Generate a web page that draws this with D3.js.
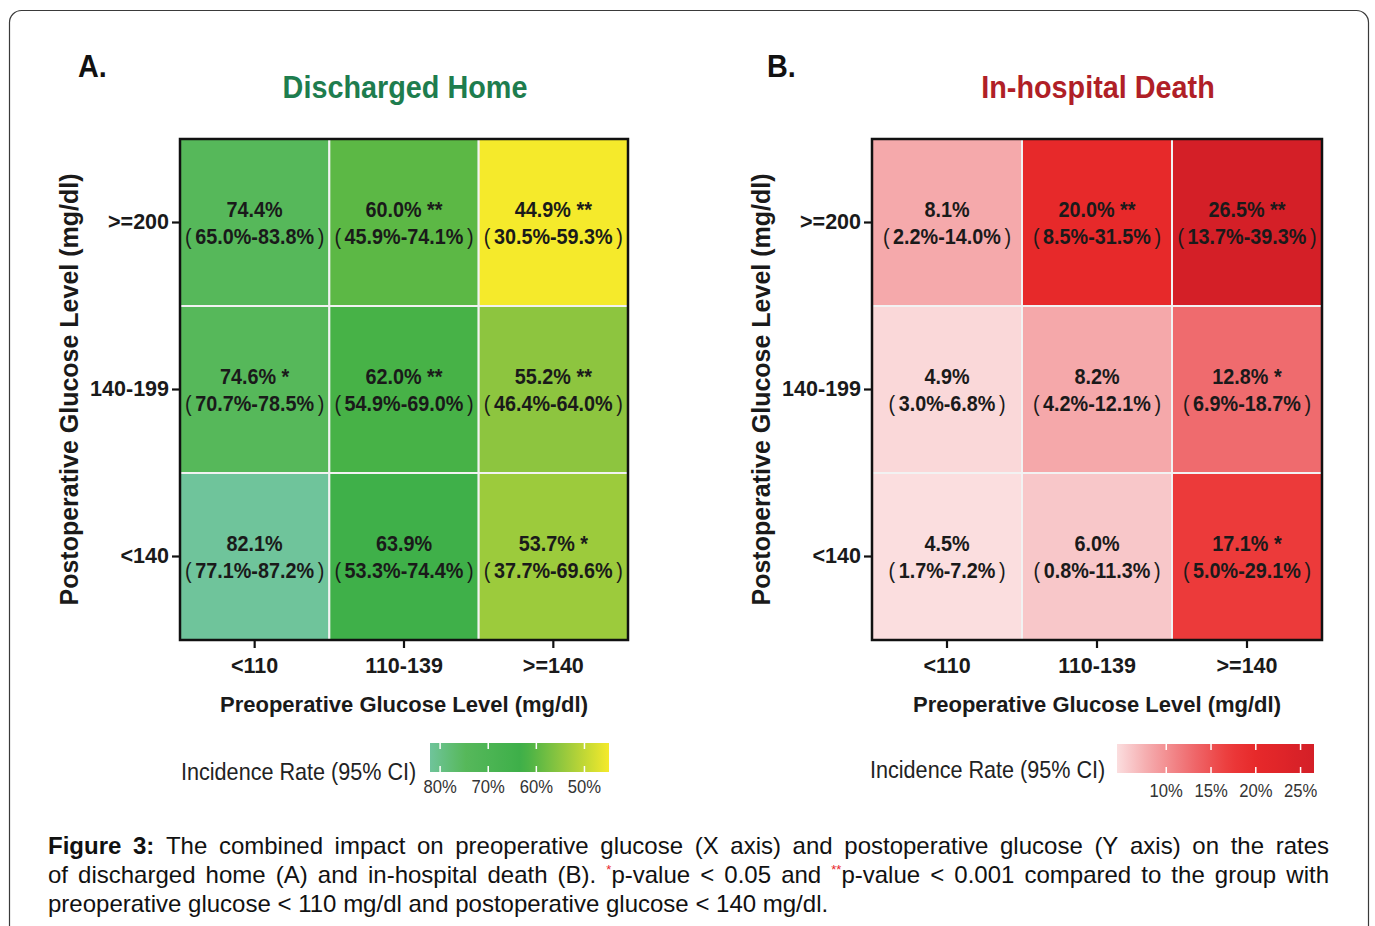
<!DOCTYPE html>
<html>
<head>
<meta charset="utf-8">
<script src="https://cdn.jsdelivr.net/npm/d3@7"></script>
<style>
  html, body { margin: 0; padding: 0; background: #fff; }
  svg { display: block; }
</style>
</head>
<body>
<script>
// ---- data -------------------------------------------------------------
const preCategories  = ["<110", "110-139", ">=140"];          // x axis
const postCategories = ["<140", "140-199", ">=200"];          // y axis (bottom -> top)

// rows follow postCategories, columns follow preCategories
const homeRates = [[82.1, 63.9, 53.7], [74.6, 62.0, 55.2], [74.4, 60.0, 44.9]];
const homeLow   = [[77.1, 53.3, 37.7], [70.7, 54.9, 46.4], [65.0, 45.9, 30.5]];
const homeHigh  = [[87.2, 74.4, 69.6], [78.5, 69.0, 64.0], [83.8, 74.1, 59.3]];
const homeSig   = [["", "", "*"], ["*", "**", "**"], ["", "**", "**"]];

const deathRates = [[4.5, 6.0, 17.1], [4.9, 8.2, 12.8], [8.1, 20.0, 26.5]];
const deathLow   = [[1.7, 0.8, 5.0], [3.0, 4.2, 6.9], [2.2, 8.5, 13.7]];
const deathHigh  = [[7.2, 11.3, 29.1], [6.8, 12.1, 18.7], [14.0, 31.5, 39.3]];
const deathSig   = [["", "", "*"], ["", "", "*"], ["", "**", "**"]];

const homeLegendTicks  = [80, 70, 60, 50];
const deathLegendTicks = [10, 15, 20, 25];

// colour ramps (value stops -> colours)
const homeStops  = [44.9, 55, 63, 75, 82.1];
const homeColors = ["#f5ea2b", "#8fc63f", "#3daf48", "#57b85b", "#6fc49b"];
const deathStops  = [4.5, 6, 8.1, 12.8, 17.1, 20, 26.5];
const deathColors = ["#fbdedf", "#f8c7c9", "#f5a9ab", "#ef6b6e", "#ec3a3a", "#e7292a", "#d41f27"];

const captionLines = [
  "!Figure !3: The combined impact on preoperative glucose (X axis) and postoperative glucose (Y axis) on the rates",
  "of discharged home (A) and in-hospital death (B). ^*|p-value < 0.05 and ^**|p-value < 0.001 compared to the group with",
  "preoperative glucose < 110 mg/dl and postoperative glucose < 140 mg/dl."
];

// ---- canvas -----------------------------------------------------------
const W = 1375, H = 926;
const svg = d3.select("body").append("svg")
  .attr("width", W).attr("height", H)
  .attr("viewBox", `0 0 ${W} ${H}`);

svg.append("rect").attr("width", W).attr("height", H).attr("fill", "#fff");
svg.append("rect")
  .attr("x", 9.5).attr("y", 10.5).attr("width", 1359).attr("height", 940)
  .attr("rx", 12).attr("fill", "none").attr("stroke", "#3a3a3a").attr("stroke-width", 1.2);

const FONT = "'Liberation Sans', Arial, sans-serif";
const NARROW = 0.9;   // horizontal squeeze used by the panel lettering

function squeezedText(g, x, y, str, opts) {
  return g.append("text")
    .attr("transform", `translate(${x},${y}) scale(${NARROW},1)`)
    .attr("text-anchor", opts.anchor || "middle")
    .attr("font-family", FONT)
    .attr("font-size", opts.size)
    .attr("font-weight", opts.weight || "bold")
    .attr("fill", opts.fill || "#1a1a1a")
    .text(str);
}

// confidence interval in light, loosely spaced brackets
function intervalText(g, x, y, lo, hi) {
  const t = squeezedText(g, x, y, "", { size: 22 });
  t.append("tspan").attr("font-weight", "normal").text("(");
  t.append("tspan").attr("dx", 4).text(`${lo.toFixed(1)}%-${hi.toFixed(1)}%`);
  t.append("tspan").attr("dx", 4).attr("font-weight", "normal").text(")");
  return t;
}

const panels = [
  {
    letter: "A.", letterX: 78, title: "Discharged Home", titleColor: "#1e7d4e",
    rates: homeRates, low: homeLow, high: homeHigh, sig: homeSig,
    color: d3.scaleLinear().domain(homeStops).range(homeColors),
    left: 180, right: 628, yTitleX: 78,
    legendTicks: homeLegendTicks, legendLabelX: 181, legendLabelY: 780,
    legendX: [430, 609], legendY: 743, legendReverse: true, legendTickY: 793
  },
  {
    letter: "B.", letterX: 767, title: "In-hospital Death", titleColor: "#b01f27",
    rates: deathRates, low: deathLow, high: deathHigh, sig: deathSig,
    color: d3.scaleLinear().domain(deathStops).range(deathColors),
    left: 872, right: 1322, yTitleX: 770,
    legendTicks: deathLegendTicks, legendLabelX: 870, legendLabelY: 778,
    legendX: [1117, 1314], legendY: 744, legendReverse: false, legendTickY: 797
  }
];

const plotTop = 139, plotBottom = 640;

panels.forEach((p, pi) => {
  const g = svg.append("g");
  const x = d3.scaleBand().domain(preCategories).range([p.left, p.right]);
  const y = d3.scaleBand().domain(postCategories).range([plotBottom, plotTop]);
  const cx = (p.left + p.right) / 2;

  // panel letter + title
  squeezedText(g, p.letterX, 77, p.letter, { size: 32, anchor: "start", fill: "#111" });
  squeezedText(g, cx + 1, 98, p.title, { size: 32, fill: p.titleColor });

  // cells
  const cells = [];
  postCategories.forEach((post, i) => {
    preCategories.forEach((pre, j) => {
      cells.push({ post, pre, rate: p.rates[i][j], low: p.low[i][j], high: p.high[i][j], sig: p.sig[i][j] });
    });
  });

  g.selectAll("rect.cell").data(cells).join("rect")
    .attr("class", "cell")
    .attr("x", d => x(d.pre)).attr("y", d => y(d.post))
    .attr("width", x.bandwidth()).attr("height", y.bandwidth())
    .attr("fill", d => p.color(d.rate))
    .attr("stroke", "#f2f2f2").attr("stroke-width", 2);

  cells.forEach(d => {
    const mx = x(d.pre) + x.bandwidth() / 2;
    const my = y(d.post) + y.bandwidth() / 2;
    squeezedText(g, mx, my - 6, `${d.rate.toFixed(1)}%${d.sig ? " " + d.sig : ""}`, { size: 22 });
    intervalText(g, mx, my + 21, d.low, d.high);
  });

  // frame
  g.append("rect")
    .attr("x", p.left).attr("y", plotTop)
    .attr("width", p.right - p.left).attr("height", plotBottom - plotTop)
    .attr("fill", "none").attr("stroke", "#111").attr("stroke-width", 2.5);

  // axes
  const yAxis = g.append("g").attr("transform", `translate(${p.left},0)`)
    .call(d3.axisLeft(y).tickSize(8).tickPadding(3));
  const xAxis = g.append("g").attr("transform", `translate(0,${plotBottom})`)
    .call(d3.axisBottom(x).tickSize(8).tickPadding(10));
  [yAxis, xAxis].forEach(a => {
    a.select(".domain").remove();
    a.selectAll(".tick line").attr("stroke", "#111").attr("stroke-width", 2.2);
    a.selectAll(".tick text")
      .attr("font-family", FONT).attr("font-size", 21.5).attr("font-weight", "bold")
      .attr("fill", "#1a1a1a");
  });

  // axis titles
  g.append("text")
    .attr("x", cx).attr("y", 712)
    .attr("text-anchor", "middle")
    .attr("font-family", FONT).attr("font-size", 22).attr("font-weight", "bold")
    .attr("fill", "#1a1a1a")
    .text("Preoperative Glucose Level (mg/dl)");
  g.append("text")
    .attr("transform", `translate(${p.yTitleX},${(plotTop + plotBottom) / 2}) rotate(-90)`)
    .attr("text-anchor", "middle")
    .attr("font-family", FONT).attr("font-size", 25).attr("font-weight", "bold")
    .attr("fill", "#1a1a1a")
    .text("Postoperative Glucose Level (mg/dl)");

  // legend
  const ext = d3.extent(p.rates.flat());
  const lx = d3.scaleLinear()
    .domain(p.legendReverse ? [ext[1], ext[0]] : ext)
    .range(p.legendX);
  const gradId = `grad${pi}`;
  const grad = svg.append("defs").append("linearGradient").attr("id", gradId)
    .attr("x1", "0%").attr("x2", "100%").attr("y1", "0%").attr("y2", "0%");
  d3.range(0, 1.0001, 0.05).forEach(t => {
    grad.append("stop").attr("offset", `${t * 100}%`)
      .attr("stop-color", p.color(lx.invert(p.legendX[0] + t * (p.legendX[1] - p.legendX[0]))));
  });
  const barH = 29;
  g.append("rect")
    .attr("x", p.legendX[0]).attr("y", p.legendY)
    .attr("width", p.legendX[1] - p.legendX[0]).attr("height", barH)
    .attr("fill", `url(#${gradId})`);
  p.legendTicks.forEach(v => {
    const tx = lx(v);
    g.append("line").attr("x1", tx).attr("x2", tx).attr("y1", p.legendY).attr("y2", p.legendY + 6)
      .attr("stroke", "#fff").attr("stroke-width", 1.5);
    g.append("line").attr("x1", tx).attr("x2", tx).attr("y1", p.legendY + barH - 6).attr("y2", p.legendY + barH)
      .attr("stroke", "#fff").attr("stroke-width", 1.5);
    squeezedText(g, tx, p.legendTickY, `${v}%`, { size: 18.5, weight: "normal", fill: "#333" });
  });
  squeezedText(g, p.legendLabelX, p.legendLabelY, "Incidence Rate (95% CI)",
    { size: 24, weight: "normal", anchor: "start", fill: "#222" });
});

// ---- caption (justified) ----------------------------------------------
const capLeft = 48, capRight = 1329, capSize = 24;
const capBase = [854, 883, 912];

function buildWord(parent, word) {
  const t = parent.append("text")
    .attr("font-family", FONT).attr("font-size", capSize).attr("fill", "#111");
  let shift = 0;
  word.split("|").forEach(seg => {
    const ts = t.append("tspan");
    if (seg.startsWith("!")) {
      ts.attr("font-weight", "bold").text(seg.slice(1));
      if (shift) { ts.attr("dy", -shift); shift = 0; }
    } else if (seg.startsWith("^")) {
      ts.attr("font-size", 13).attr("fill", "#e8262a").attr("dy", -9).text(seg.slice(1));
      shift = -9;
    } else {
      ts.text(seg);
      if (shift) { ts.attr("dy", -shift); shift = 0; }
    }
  });
  return t;
}

const capG = svg.append("g");
captionLines.forEach((line, li) => {
  const words = line.split(" ").map(w => buildWord(capG, w));
  const widths = words.map(t => t.node().getComputedTextLength());
  const total = d3.sum(widths);
  const last = li === captionLines.length - 1;
  const spaceW = capSize * 0.278;
  const gap = last ? spaceW : (capRight - capLeft - total) / (words.length - 1);
  let cur = capLeft;
  words.forEach((t, k) => {
    t.attr("x", cur).attr("y", capBase[li]);
    cur += widths[k] + gap;
  });
});
</script>
</body>
</html>
